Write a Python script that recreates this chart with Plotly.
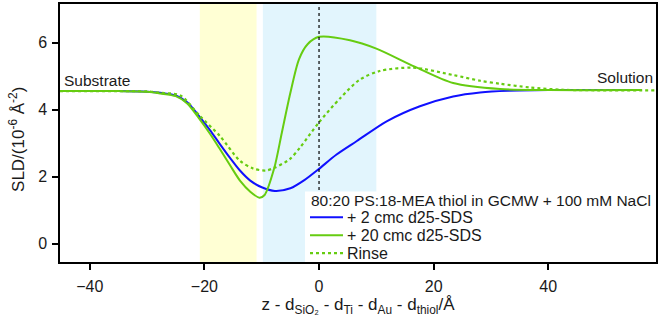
import plotly.graph_objects as go

# Data
x_blue = [-45.2, -35, -30, -27.7, -25, -23, -21, -19, -17.3, -15.5, -13.8, -12, -10, -7.7, -5, -2.5, 0, 3, 6.6, 11.8, 17.6, 23.4, 28.1, 33, 40, 56.3]
y_blue = [4.55, 4.55, 4.53, 4.50, 4.42, 4.22, 3.82, 3.38, 2.97, 2.55, 2.18, 1.88, 1.68, 1.57, 1.65, 1.90, 2.23, 2.65, 3.06, 3.65, 4.10, 4.39, 4.51, 4.56, 4.58, 4.58]

x_green = [-45.2, -35, -30, -27.7, -25, -23, -21, -19, -17.3, -15.5, -13.8, -12, -10.4, -9.5, -7.8, -6.5, -5, -3.5, -2, 0, 5.4, 10, 16.7, 23.4, 31.6, 40, 56.3]
y_green = [4.55, 4.55, 4.53, 4.48, 4.40, 4.18, 3.75, 3.27, 2.82, 2.33, 1.88, 1.55, 1.37, 1.45, 2.26, 3.30, 4.50, 5.50, 5.95, 6.17, 6.07, 5.82, 5.28, 4.79, 4.61, 4.58, 4.58]

x_rinse = [-45.2, -35, -30, -27.7, -24.2, -20.75, -17.3, -13.8, -11.5, -9.3, -7.8, -5.1, -3.3, 0, 3.7, 7.1, 10.6, 16.4, 23.4, 28.1, 31.6, 36.8, 42.6, 58.8]
y_rinse = [4.55, 4.55, 4.54, 4.50, 4.42, 3.80, 3.21, 2.47, 2.24, 2.18, 2.26, 2.52, 2.87, 3.62, 4.34, 4.89, 5.15, 5.25, 5.03, 4.86, 4.77, 4.66, 4.59, 4.57]

x_ticks = [-40, -20, 0, 20, 40]
y_ticks = [0, 2, 4, 6]
yellow_band = [-20.8, -10.9]
blue_band = [-9.8, 10.0]
series_names = ["+ 2 cmc d25-SDS", "+ 20 cmc d25-SDS", "Rinse"]
legend_title = "80:20 PS:18-MEA thiol in GCMW + 100 mM NaCl"
y_title = "SLD/(10<sup>-6</sup> Å<sup>-2</sup>)"
x_title = "z - d<sub>SiO₂</sub> - d<sub>Ti</sub> - d<sub>Au</sub> - d<sub>thiol</sub>/Å"

FONT = "Liberation Sans, Arial, sans-serif"
BLUE = "#1010ff"
GREEN = "#66cc11"
TXT = "#1a1a1a"

styles = [dict(color=BLUE, width=2, dash="solid"),
          dict(color=GREEN, width=2, dash="solid"),
          dict(color=GREEN, width=2.2, dash="dot")]

fig = go.Figure()
for xs, ys, nm, st in zip([x_blue, x_green, x_rinse], [y_blue, y_green, y_rinse], series_names, styles):
    fig.add_trace(go.Scatter(x=xs, y=ys, mode="lines", name=nm, showlegend=False,
                             line=dict(color=st["color"], width=st["width"], dash=st["dash"],
                                       shape="spline", smoothing=0.8)))

fig.add_vrect(x0=yellow_band[0], x1=yellow_band[1], fillcolor="#ffffd4", line_width=0, layer="below")
fig.add_vrect(x0=blue_band[0], x1=blue_band[1], fillcolor="#e2f5fd", line_width=0, layer="below")
fig.add_vline(x=0, line=dict(color="black", width=1.2, dash="dot"))

fig.add_annotation(x=-45.2, y=4.55, xref="x", yref="y", text="Substrate", showarrow=False,
                   xanchor="left", yanchor="bottom", xshift=2, yshift=0,
                   font=dict(family=FONT, size=15.5, color=TXT))
fig.add_annotation(x=58.8, y=4.58, xref="x", yref="y", text="Solution", showarrow=False,
                   xanchor="right", yanchor="bottom", xshift=-1, yshift=2,
                   font=dict(family=FONT, size=15.5, color=TXT))

# pixel -> paper helpers
PW, PH, L, B = 596.0, 260.0, 60.0, 262.0
def px(xp):
    return (xp - L) / PW
def py(yp):
    return (B - yp) / PH

# y-axis title placed as rotated text
fig.add_annotation(xref="paper", yref="paper", x=px(17), y=py(138), text=y_title,
                   textangle=-90, showarrow=False, xanchor="center", yanchor="middle",
                   font=dict(family=FONT, size=17, color=TXT))

# Legend box (drawn manually to match the compact reference layout)
fig.add_shape(type="rect", xref="paper", yref="paper", x0=px(305), x1=1, y0=0, y1=py(191),
              fillcolor="white", line_width=0, layer="above")
fig.add_annotation(xref="paper", yref="paper", x=px(309), y=py(200), text=legend_title,
                   showarrow=False, xanchor="left", yanchor="middle",
                   font=dict(family=FONT, size=15.5, color=TXT))
for i, (nm, st) in enumerate(zip(series_names, styles)):
    yy = py(217 + 18 * i)
    fig.add_shape(type="line", xref="paper", yref="paper", x0=px(310), x1=px(343), y0=yy, y1=yy,
                  line=dict(color=st["color"], width=st["width"], dash=st["dash"]), layer="above")
    fig.add_annotation(xref="paper", yref="paper", x=px(345), y=yy, text=nm,
                       showarrow=False, xanchor="left", yanchor="middle",
                       font=dict(family=FONT, size=16, color=TXT))

fig.update_layout(
    width=661, height=320,
    margin=dict(l=60, r=5, t=2, b=58),
    plot_bgcolor="white", paper_bgcolor="white",
    font=dict(family=FONT, size=15, color=TXT),
    showlegend=False,
    xaxis=dict(range=[-45.2, 58.8], tickvals=x_ticks, showgrid=False, zeroline=False,
               showline=True, linecolor="black", linewidth=1.5, mirror=True,
               ticks="outside", ticklen=6, tickwidth=1.5, tickcolor="black",
               tickfont=dict(size=16), ticklabelstandoff=3,
               title=dict(text=x_title, font=dict(size=17), standoff=0)),
    yaxis=dict(range=[-0.55, 7.15], tickvals=y_ticks, showgrid=False, zeroline=False,
               showline=True, linecolor="black", linewidth=1.5, mirror=True,
               ticks="outside", ticklen=6, tickwidth=1.5, tickcolor="black",
               tickfont=dict(size=16), ticklabelstandoff=2),
)

fig.write_html("out.html")
